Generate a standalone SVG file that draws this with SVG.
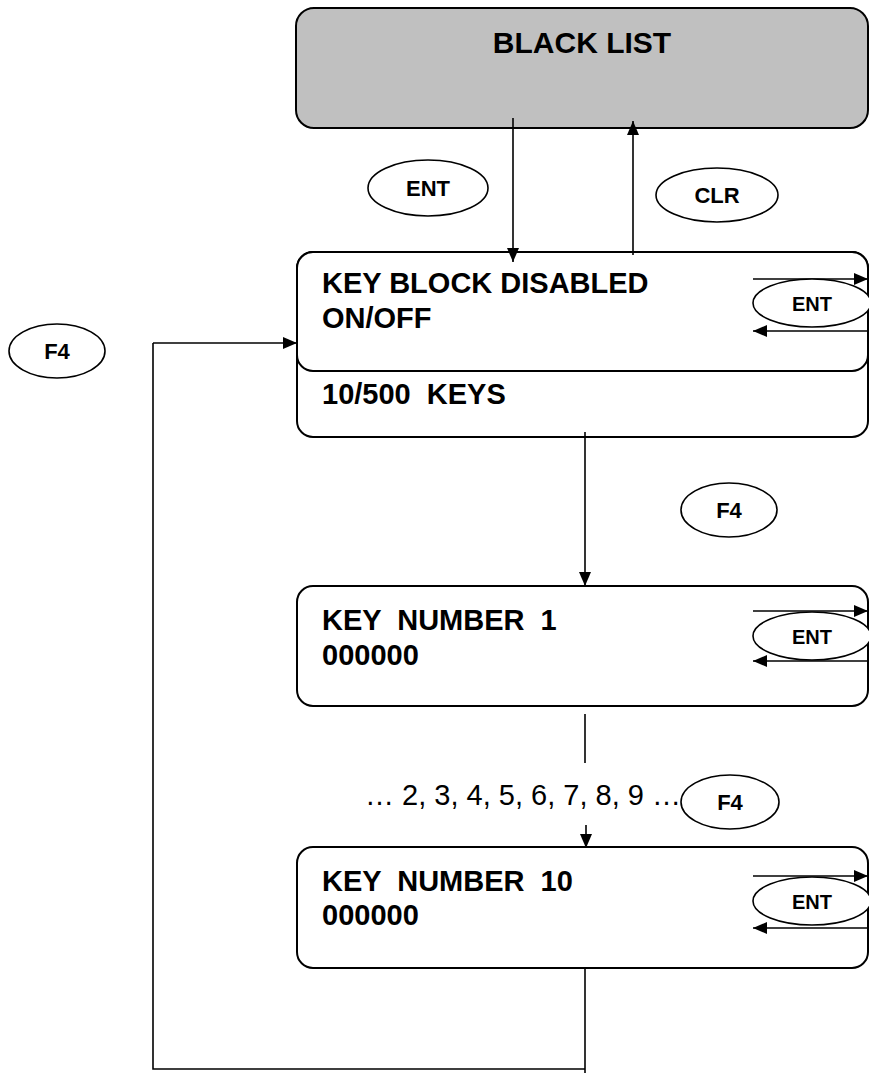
<svg xmlns="http://www.w3.org/2000/svg" width="869" height="1073" viewBox="0 0 869 1073">
<defs>
<marker id="ah" viewBox="0 0 14 12" refX="14" refY="6" markerWidth="14" markerHeight="12" markerUnits="userSpaceOnUse" orient="auto"><path d="M0,0 L14,6 L0,12 z" fill="#000"/></marker>
<style>
.box{fill:#fff;stroke:#000;stroke-width:2}
.gray{fill:#c0c0c0;stroke:#000;stroke-width:2}
.ell{fill:#fff;stroke:#000;stroke-width:1.6}
.ln{fill:none;stroke:#000;stroke-width:1.6}
.arr{fill:none;stroke:#000;stroke-width:1.6;marker-end:url(#ah)}
text{white-space:pre}
.t{font-family:"Liberation Sans",Arial,sans-serif;font-weight:bold;font-size:29px;fill:#000}
.k{font-family:"Liberation Sans",Arial,sans-serif;font-weight:bold;font-size:22px;fill:#000;text-anchor:middle}
.ks{font-family:"Liberation Sans",Arial,sans-serif;font-weight:bold;font-size:20px;fill:#000;text-anchor:middle}
.r{font-family:"Liberation Sans",Arial,sans-serif;font-size:29px;fill:#000}
</style>
</defs>
<g id="black-list">
<rect class="gray" x="296" y="8" width="572" height="120" rx="18"/>
<text class="t" x="582" y="53" text-anchor="middle" style="font-size:30px">BLACK LIST</text>
</g>
<g id="key-ent-top">
<ellipse class="ell" cx="428" cy="188" rx="60" ry="28"/>
<text class="k" x="428" y="196">ENT</text>
</g>
<g id="key-clr">
<ellipse class="ell" cx="717" cy="195" rx="61" ry="27"/>
<text class="k" x="717" y="203">CLR</text>
</g>
<g id="key-block">
<rect class="box" x="297" y="252" width="571" height="185" rx="16"/>
<rect class="box" x="297" y="252" width="571" height="119" rx="16"/>
<text class="t" x="322" y="293">KEY BLOCK DISABLED</text>
<text class="t" x="322" y="328">ON/OFF</text>
<text class="t" x="322" y="404">10/500  KEYS</text>
</g>
<g id="key-f4-left">
<ellipse class="ell" cx="57" cy="351" rx="48" ry="27"/>
<text class="k" x="57" y="359">F4</text>
</g>
<g id="key-f4-mid">
<ellipse class="ell" cx="729" cy="510" rx="48" ry="27"/>
<text class="k" x="729" y="518">F4</text>
</g>
<g id="key-number-1">
<rect class="box" x="297" y="586" width="571" height="120" rx="16"/>
<text class="t" x="322" y="630">KEY  NUMBER  1</text>
<text class="t" x="322" y="665">000000</text>
</g>
<g id="sequence-label">
<text class="r" x="365" y="805">… 2, 3, 4, 5, 6, 7, 8, 9 …</text>
</g>
<g id="key-f4-low">
<ellipse class="ell" cx="730" cy="802" rx="49" ry="27"/>
<text class="k" x="730" y="810">F4</text>
</g>
<g id="key-number-10">
<rect class="box" x="297" y="847" width="571" height="121" rx="16"/>
<text class="t" x="322" y="891">KEY  NUMBER  10</text>
<text class="t" x="322" y="925">000000</text>
</g>
<g id="ent-loops">
<line class="arr" x1="753" y1="279" x2="868" y2="279"/>
<ellipse class="ell" cx="812" cy="303" rx="59" ry="24"/>
<text class="ks" x="812" y="311">ENT</text>
<line class="arr" x1="868" y1="331" x2="753" y2="331"/>
<line class="arr" x1="753" y1="611" x2="868" y2="611"/>
<ellipse class="ell" cx="812" cy="636" rx="59" ry="24"/>
<text class="ks" x="812" y="644">ENT</text>
<line class="arr" x1="868" y1="661" x2="753" y2="661"/>
<line class="arr" x1="753" y1="876" x2="868" y2="876"/>
<ellipse class="ell" cx="812" cy="901" rx="59" ry="24"/>
<text class="ks" x="812" y="909">ENT</text>
<line class="arr" x1="868" y1="928" x2="753" y2="928"/>
</g>
<g id="connectors">
<line class="arr" x1="513" y1="118" x2="513" y2="262"/>
<line class="arr" x1="633" y1="255" x2="633" y2="121"/>
<line class="arr" x1="585" y1="432" x2="585" y2="586"/>
<line class="ln" x1="585" y1="714" x2="585" y2="763"/>
<line class="arr" x1="586" y1="825" x2="586" y2="848"/>
<polyline class="ln" points="585,968 585,1073"/>
<polyline class="ln" points="585,1069 153,1069 153,343"/>
<line class="arr" x1="153" y1="343" x2="297" y2="343"/>
</g>
</svg>
